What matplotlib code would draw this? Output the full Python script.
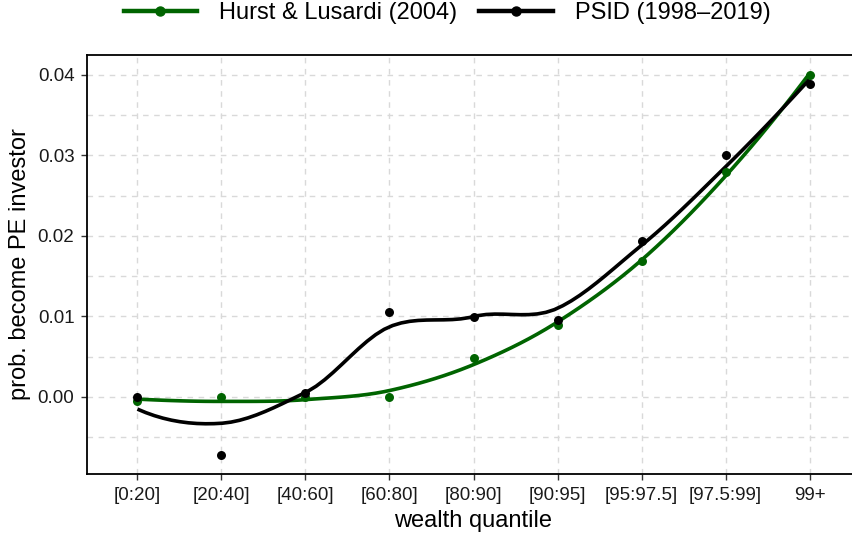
import numpy as np
import matplotlib
matplotlib.use("Agg")
import matplotlib.pyplot as plt
from matplotlib.lines import Line2D
from matplotlib.ticker import MultipleLocator, FormatStrFormatter

categories = ["[0:20]", "[20:40]", "[40:60]", "[60:80]", "[80:90]", "[90:95]",
              "[95:97.5]", "[97.5:99]", "99+"]
hurst = [-0.0005, 0.0, 0.0, 0.0, 0.0048, 0.0089, 0.0169, 0.0280, 0.0400]
psid = [0.0, -0.0072, 0.0005, 0.0106, 0.0099, 0.0095, 0.0194, 0.0300, 0.0389]
series_names = ["Hurst & Lusardi (2004)", "PSID (1998\u20132019)"]
series_colors = ["#006400", "#000000"]


def local_fit(x, y, x0, q, deg=2):
    d = np.abs(x - x0)
    h = np.sort(d)[q - 1]
    w = np.where(d < h, np.clip(1 - (d / h) ** 3, 0, None) ** 3, 0.0)
    X = np.vander(x - x0, deg + 1, increasing=True)
    A = X.T @ (w[:, None] * X)
    b = X.T @ (w * y)
    beta = np.linalg.lstsq(A, b, rcond=None)[0]
    return beta[0], beta[1]


def kd_vertices(xsorted, lo, hi, fc):
    # recursive median split (split value = median data point)
    verts = {lo, hi}
    def split(pts, a, b):
        if len(pts) <= fc:
            return
        m = (len(pts) - 1) // 2
        t = pts[m]
        if t == a or t == b:
            return
        verts.add(t)
        split(pts[:m + 1], a, t)
        split(pts[m + 1:], t, b)
    split(list(xsorted), lo, hi)
    return np.array(sorted(verts))


def loess(x, y, xs, span=0.75, deg=2):
    x = np.asarray(x, float)
    y = np.asarray(y, float)
    n = len(x)
    q = int(np.floor(n * span))
    fc = int(np.floor(n * span * 0.2))
    mu = 0.005 * (x.max() - x.min())
    v = kd_vertices(np.sort(x), x.min() - mu, x.max() + mu, max(fc, 1))
    vals = np.array([local_fit(x, y, vv, q, deg) for vv in v])
    out = []
    for x0 in xs:
        i = np.clip(np.searchsorted(v, x0) - 1, 0, len(v) - 2)
        x1, x2 = v[i], v[i + 1]
        hh = x2 - x1
        t = (x0 - x1) / hh
        f1, d1 = vals[i]
        f2, d2 = vals[i + 1]
        h00 = 2 * t**3 - 3 * t**2 + 1
        h10 = t**3 - 2 * t**2 + t
        h01 = -2 * t**3 + 3 * t**2
        h11 = t**3 - t**2
        out.append(h00 * f1 + h10 * hh * d1 + h01 * f2 + h11 * hh * d2)
    return np.array(out)


plt.rcParams['font.family'] = ['Liberation Sans', 'DejaVu Sans']
fig = plt.figure(figsize=(8.52, 5.37), dpi=100)
ax = fig.add_axes([87 / 852, 1 - 474 / 537, 773 / 852, (474 - 54.7) / 537])

xpos = np.arange(1, len(categories) + 1)
xs = np.linspace(1, len(categories), 80)

for vals, col in zip([hurst, psid], series_colors):
    ax.plot(xs, loess(xpos, vals, xs), color=col, lw=2.6, zorder=3,
            solid_capstyle='butt')
for vals, col in zip([hurst, psid], series_colors):
    ax.scatter(xpos, vals, s=42, color=col, zorder=4, linewidths=0)

ax.set_xlim(0.4, len(categories) + 0.6)
ax.set_ylim(-0.00957, 0.04252)
ax.set_xticks(xpos)
ax.set_xticklabels(categories)
ax.yaxis.set_major_locator(MultipleLocator(0.01))
ax.yaxis.set_minor_locator(MultipleLocator(0.005))
ax.yaxis.set_major_formatter(FormatStrFormatter('%.2f'))
ax.tick_params(axis='y', which='minor', length=0)
ax.tick_params(axis='both', which='major', length=4.5, width=1.0, color='#333333',
               labelsize=13.5, labelcolor='#1a1a1a', pad=4.5)
ax.grid(True, which='both', axis='y', color='#d9d9d9', linestyle=(0, (4, 4)), lw=1.0)
ax.grid(True, which='major', axis='x', color='#d9d9d9', linestyle=(0, (4, 4)), lw=1.0)
ax.set_axisbelow(True)
for s in ax.spines.values():
    s.set_linewidth(1.3)
    s.set_color('black')

ax.set_xlabel("wealth quantile", fontsize=17, labelpad=5)
ax.set_ylabel("prob. become PE investor", fontsize=17, labelpad=5)

handles = [Line2D([0], [0], color=c, lw=3.2, marker='o', markersize=6.5)
           for c in series_colors]
fig.legend(handles, series_names, loc='center', bbox_to_anchor=(447 / 852, 1 - 13 / 537),
           ncol=2, frameon=False, fontsize=17, handlelength=3.1, columnspacing=0.95,
           handletextpad=0.93)

fig.savefig("out.png", dpi=100)
